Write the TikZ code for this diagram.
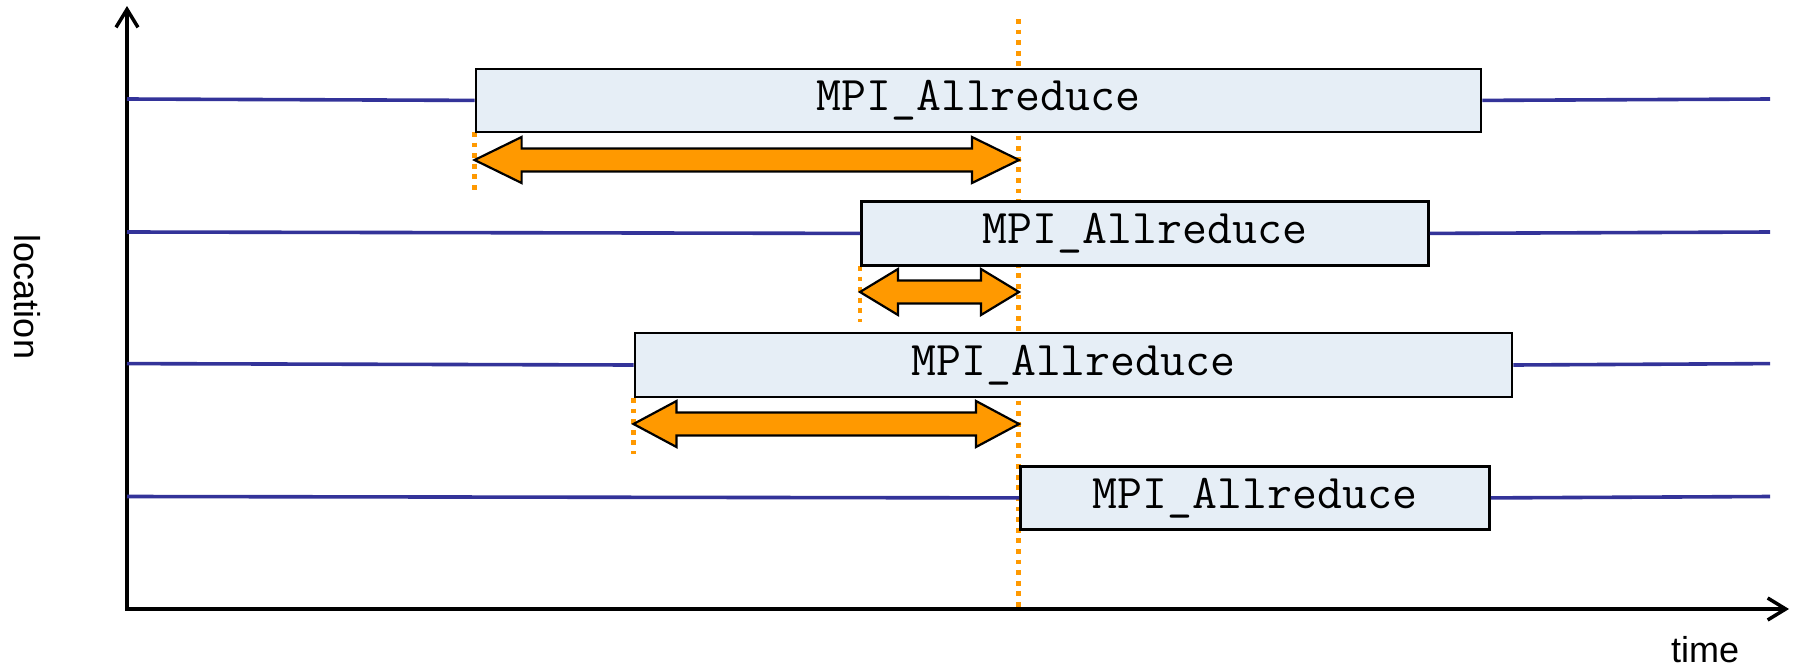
\documentclass[tikz,border=0pt]{standalone}
\usepackage{fontspec}
\setmainfont{Liberation Sans}
\usetikzlibrary{arrows.meta}
\definecolor{tlblue}{RGB}{51,51,153}
\definecolor{boxfill}{RGB}{230,238,246}
\definecolor{orng}{RGB}{255,153,0}
\newcommand\drawwait[4]{% xL, xR, y, head length
  \draw[waitarrow] (#1,#3) -- ({#1+#4},{#3-23}) -- ({#1+#4},{#3-11.5}) -- ({#2-#4},{#3-11.5}) -- ({#2-#4},{#3-23}) -- (#2,#3) -- ({#2-#4},{#3+23}) -- ({#2-#4},{#3+11.5}) -- ({#1+#4},{#3+11.5}) -- ({#1+#4},{#3+23}) -- cycle;}
\begin{document}
\begin{tikzpicture}[x=1pt,y=-1pt,
  timeline/.style={draw=tlblue,line width=3.6pt},
  callbox/.style={draw=black,line width=2.8pt,fill=boxfill,inner sep=0pt,anchor=north west,
    font=\ttfamily\fontsize{48.4}{56}\selectfont},
  marker/.style={draw=orng,line width=4.7pt,dash pattern=on 4.7pt off 5.9pt},
  axisline/.style={line width=3.5pt,line join=miter,
    arrows={Straight Barb[length=18pt,width=22pt]-Straight Barb[length=18pt,width=22pt]}},
  waitarrow/.style={fill=orng,draw=black,line width=2.2pt,line join=miter},
  axislabel/.style={font=\fontsize{36}{43}\selectfont}]
\useasboundingbox (0,0) rectangle (1793,667);
% axes
\coordinate (origin) at (127,609);
\coordinate (ytip) at (127,6);
\coordinate (xtip) at (1789,609);
\draw[axisline] (ytip) -- (origin) -- (xtip);
\node[axislabel,rotate=-90] (loc) at (27,297) {location};
\node[axislabel,anchor=base] (tim) at (1705,662) {time};
% dotted markers
\coordinate (mtop) at (1018.5,19);
\coordinate (mbot) at (1018.5,607);
\draw[marker] (mtop) -- (mbot);
\coordinate (m1a) at (474.6,132); \coordinate (m1b) at (474.6,190);
\coordinate (m2a) at (860,266);   \coordinate (m2b) at (860,322);
\coordinate (m3a) at (633.5,398); \coordinate (m3b) at (633.5,454);
\draw[marker] (m1a) -- (m1b);
\draw[marker] (m2a) -- (m2b);
\draw[marker] (m3a) -- (m3b);
% boxes
\node[callbox,minimum width=1005pt,minimum height=63pt] (b1) at (474.6,67.5) {MPI\_Allreduce};
\node[callbox,minimum width=567pt,minimum height=64pt] (b2) at (860,200) {MPI\_Allreduce};
\node[callbox,minimum width=877pt,minimum height=64pt] (b3) at (633.5,331.6) {MPI\_Allreduce};
\node[callbox,minimum width=469pt,minimum height=63pt] (b4) at (1019,465) {MPI\_Allreduce};
% timelines
\coordinate (l1s) at (127,99); \coordinate (l1e) at (1770,99);
\coordinate (l2s) at (127,232); \coordinate (l2e) at (1770,232);
\coordinate (l3s) at (127,363.6); \coordinate (l3e) at (1770,363.6);
\coordinate (l4s) at (127,496.5); \coordinate (l4e) at (1770,496.5);
\draw[timeline] (l1s) -- (b1.west); \draw[timeline] (b1.east) -- (l1e);
\draw[timeline] (l2s) -- (b2.west); \draw[timeline] (b2.east) -- (l2e);
\draw[timeline] (l3s) -- (b3.west); \draw[timeline] (b3.east) -- (l3e);
\draw[timeline] (l4s) -- (b4.west); \draw[timeline] (b4.east) -- (l4e);
% waiting-time arrows
\drawwait{474.6}{1019}{160}{47}
\drawwait{860}{1019}{292}{38}
\drawwait{633.5}{1019}{424}{43}
\end{tikzpicture}
\end{document}
